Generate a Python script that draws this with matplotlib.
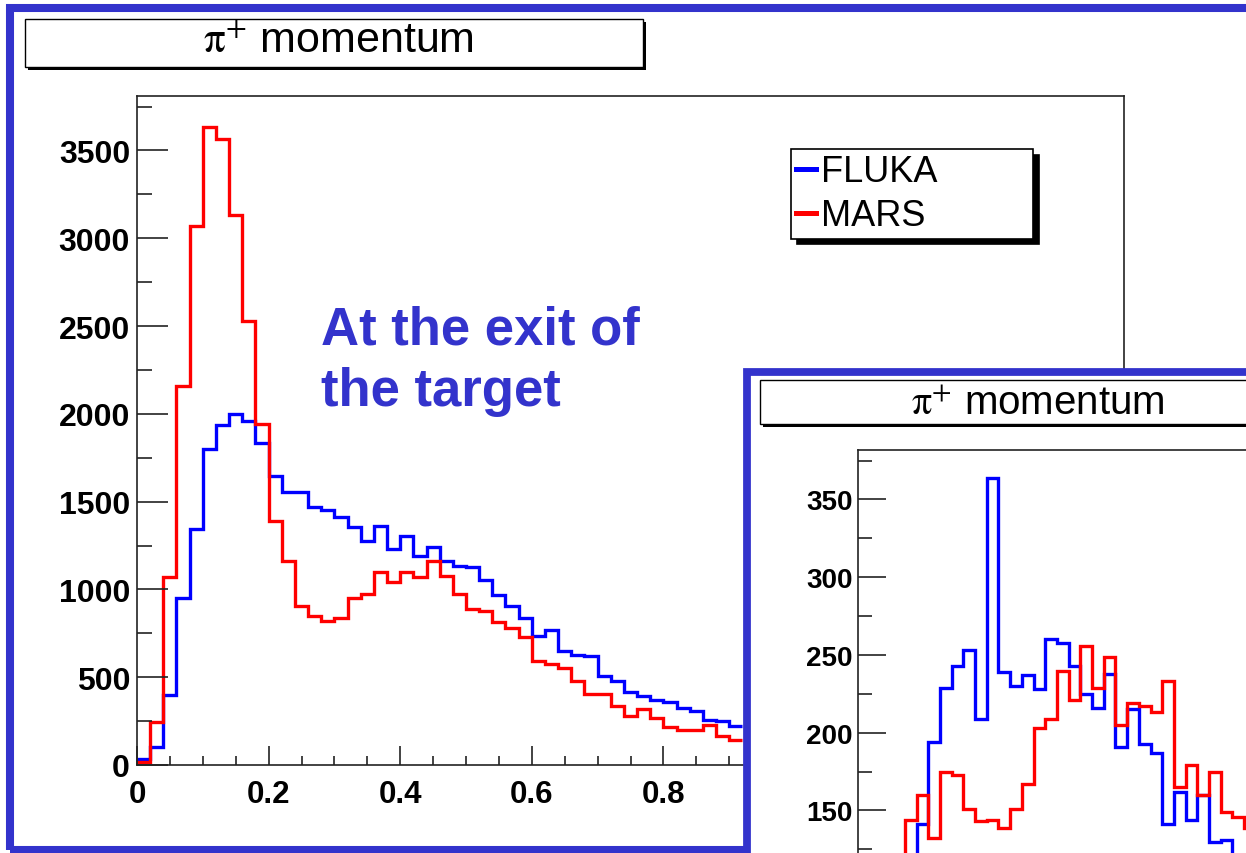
import numpy as np
import matplotlib.pyplot as plt
from matplotlib.patches import Rectangle
from matplotlib.lines import Line2D
from matplotlib.ticker import MultipleLocator, FixedLocator, FuncFormatter

plt.rcParams['font.family'] = ['Liberation Sans', 'DejaVu Sans']
plt.rcParams['mathtext.fontset'] = 'stix'

W, H = 1246, 854
FRAME_BLUE = '#3333cc'

# pi+ momentum at the exit of the target (main plot), bins of 0.02 from 0
bin_w = 0.02
fluka_main = [34, 104, 398, 950, 1343, 1798, 1937, 2001, 1960, 1836, 1646, 1552,
              1552, 1467, 1453, 1410, 1353, 1273, 1362, 1229, 1305, 1191, 1242, 1161,
              1134, 1125, 1053, 969, 903, 840, 736, 770, 651, 628, 619, 505,
              480, 417, 394, 370, 360, 323, 309, 258, 252, 220]
mars_main = [15, 246, 1068, 2160, 3069, 3633, 3563, 3130, 2529, 1941, 1390, 1163,
             907, 850, 821, 840, 950, 973, 1097, 1045, 1097, 1072, 1163, 1076,
             973, 888, 878, 816, 783, 727, 590, 575, 550, 480, 404, 404,
             334, 277, 319, 266, 214, 201, 201, 230, 167, 142]

# inset histogram (only the visible part), same bin width
mars_inset_start = 0.08
mars_inset = [144, 160, 132, 175, 173, 151, 143, 144, 139, 151, 167, 203,
              209, 240, 221, 256, 229, 249, 205, 219, 217, 213, 233, 165,
              179, 160, 175, 149, 146, 139]
fluka_inset_start = 0.10
fluka_inset = [141, 194, 229, 243, 253, 209, 364, 239, 230, 237, 228, 260,
               258, 243, 225, 216, 238, 191, 215, 193, 187, 141, 162, 144,
               160, 130, 131, 115]
inset_yticks = [150, 200, 250, 300, 350]

legend_labels = ['FLUKA', 'MARS']
title = r'$\mathrm{\pi}^{+}$ momentum'
note = 'At the exit of\nthe target'


def fx(x):
    return x / W


def fy(y):
    return 1 - y / H


def edges(start, vals):
    return start + bin_w * np.arange(len(vals) + 1)


def box(x0, y0, x1, y1, z, shadow=3):
    # ROOT style box with a black drop shadow
    fig.add_artist(Rectangle((fx(x0 + shadow), fy(y1 + shadow)), (x1 - x0) / W, (y1 - y0) / H,
                             transform=fig.transFigure, fc='black', ec='black', lw=0, zorder=z))
    fig.add_artist(Rectangle((fx(x0), fy(y1)), (x1 - x0) / W, (y1 - y0) / H,
                             transform=fig.transFigure, fc='white', ec='black', lw=1.0, zorder=z + 0.1))


def bold_ticks(a):
    plt.setp(a.get_xticklabels() + a.get_yticklabels(), fontweight='bold')


fig = plt.figure(figsize=(W / 100, H / 100), dpi=100)

# main histogram
ax = fig.add_axes([fx(137), fy(766), (1124 - 137) / W, (766 - 97) / H], zorder=0)
ax.stairs(fluka_main, edges(0, fluka_main), color='#0000ff', lw=2.4, baseline=None)
ax.stairs(mars_main, edges(0, mars_main), color='#ff0000', lw=2.4, baseline=None)
ax.set_xlim(0, 1.5)
ax.set_ylim(0, 3810)
ax.xaxis.set_major_locator(MultipleLocator(0.2))
ax.xaxis.set_minor_locator(MultipleLocator(0.05))
ax.yaxis.set_major_locator(MultipleLocator(500))
ax.yaxis.set_minor_locator(MultipleLocator(250))
ax.xaxis.set_major_formatter(FuncFormatter(lambda v, p: '0' if abs(v) < 1e-9 else f'{v:.1f}'))
ax.tick_params(which='both', direction='in', top=False, right=False, color='#222222')
ax.tick_params(axis='y', which='major', length=22, width=1.2, pad=5, labelsize=23)
ax.tick_params(axis='y', which='minor', length=11, width=1.2)
ax.tick_params(axis='x', which='major', length=13.5, width=1.2, pad=10, labelsize=22.5)
ax.tick_params(axis='x', which='minor', length=6.5, width=1.2)
for s in ax.spines.values():
    s.set_linewidth(1.2)
    s.set_color('#222222')
bold_ticks(ax)

handles = [Line2D([], [], color='#0000ff', lw=3.6), Line2D([], [], color='#ff0000', lw=3.6)]
leg = ax.legend(handles, legend_labels, loc='upper left', mode='expand',
                bbox_to_anchor=(fx(791), fy(238), (1033 - 791) / W, (238 - 150) / H),
                bbox_transform=fig.transFigure, fontsize=26, handlelength=0.55,
                handletextpad=0.12, borderpad=0.15, labelspacing=0.25, borderaxespad=0,
                fancybox=False, edgecolor='black', framealpha=1,
                shadow={'ox': 4, 'oy': -4, 'color': 'black', 'alpha': 1})
leg.get_frame().set_linewidth(1.2)

# outer frame of the main pad
fig.add_artist(Rectangle((fx(10), fy(851)), (1500 - 10) / W, (851 - 9) / H,
                         transform=fig.transFigure, fill=False, ec=FRAME_BLUE, lw=5.8, zorder=1))
box(25, 20, 643, 68, 1.2)
fig.text(fx(338), fy(42), title, ha='center', va='center', fontsize=31, zorder=1.5)

fig.text(fx(321), fy(306), note, ha='left', va='top', fontsize=38, fontweight='bold',
         color=FRAME_BLUE, linespacing=1.27, zorder=1.5)

# inset pad
fig.add_artist(Rectangle((fx(746.5), fy(1300)), (1600 - 746.5) / W, (1300 - 373) / H,
                         transform=fig.transFigure, fc='white', ec=FRAME_BLUE, lw=5.6, zorder=2))
box(760, 381, 1316, 425, 3)
fig.text(fx(1038), fy(404), title, ha='center', va='center', fontsize=29, zorder=3.5)

axi = fig.add_axes([fx(858), fy(1044.7), 877.5 / W, (1044.7 - 450.7) / H], zorder=4)
axi.patch.set_alpha(0)
axi.stairs(fluka_inset, edges(fluka_inset_start, fluka_inset), color='#0000ff', lw=2.4)
axi.stairs(mars_inset, edges(mars_inset_start, mars_inset), color='#ff0000', lw=2.4)
axi.set_xlim(0, 1.5)
axi.set_ylim(0, 382)
axi.xaxis.set_major_locator(MultipleLocator(0.2))
axi.yaxis.set_major_locator(FixedLocator(inset_yticks))
axi.yaxis.set_minor_locator(MultipleLocator(25))
axi.tick_params(which='both', direction='in', top=False, right=False, color='#222222')
axi.tick_params(axis='x', labelbottom=False)
axi.tick_params(axis='y', which='major', length=20, width=1.2, pad=4, labelsize=20)
axi.tick_params(axis='y', which='minor', length=10, width=1.2)
for s in axi.spines.values():
    s.set_linewidth(1.2)
    s.set_color('#222222')
bold_ticks(axi)

fig.savefig('out.png', dpi=100)
